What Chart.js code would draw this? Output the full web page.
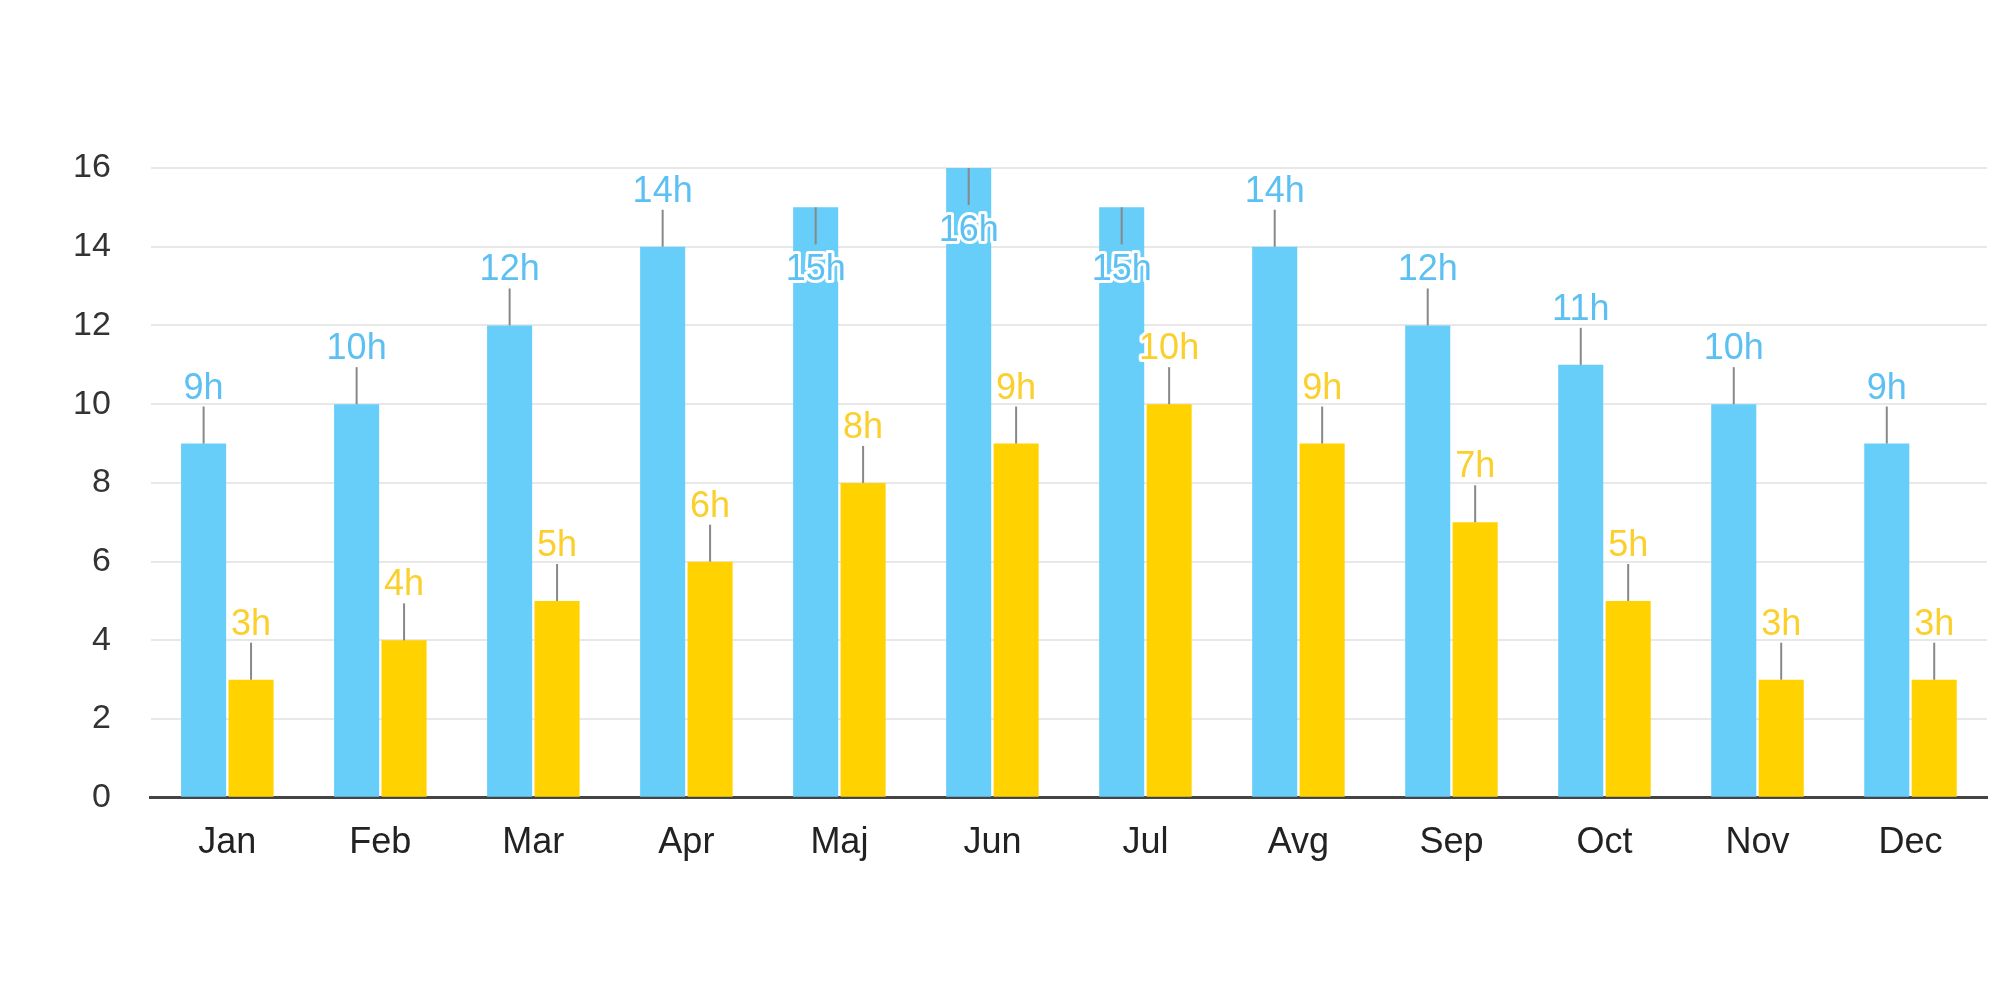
<!DOCTYPE html>
<html>
<head>
<meta charset="utf-8">
<script src="https://cdn.jsdelivr.net/npm/chart.js@4/dist/chart.umd.min.js"></script>
<style>
  html, body { margin: 0; padding: 0; background: #fff; }
  #wrap { width: 2000px; height: 1000px; }
</style>
</head>
<body>
<div id="wrap"><canvas id="myChart" width="2000" height="1000"></canvas></div>
<script>
const months = ["Jan", "Feb", "Mar", "Apr", "Maj", "Jun", "Jul", "Avg", "Sep", "Oct", "Nov", "Dec"];
const daylight = [9, 10, 12, 14, 15, 16, 15, 14, 12, 11, 10, 9];
const sunshine = [3, 4, 5, 6, 8, 9, 10, 9, 7, 5, 3, 3];

const BLUE = "#66cef8";
const BLUE_TEXT = "#5cc0f2";
const YELLOW = "#ffd200";
const YELLOW_TEXT = "#fbcf2c";

// value labels with a short grey connector above each bar
const hourLabels = {
  id: "hourLabels",
  afterDatasetsDraw(chart) {
    const c = chart.ctx;
    const top = chart.chartArea.top;
    c.save();
    c.font = "36px 'Liberation Sans', Arial, sans-serif";
    c.textAlign = "center";
    chart.data.datasets.forEach((ds, di) => {
      chart.getDatasetMeta(di).data.forEach((bar, i) => {
        const x = bar.x, y = bar.y;
        const lineLen = 37;
        const inside = y - lineLen - 8 - 26 < top - 10;
        c.strokeStyle = "#888";
        c.lineWidth = 2;
        c.beginPath();
        if (inside) {
          c.moveTo(x, y);
          c.lineTo(x, y + lineLen);
        } else {
          c.moveTo(x, y);
          c.lineTo(x, y - lineLen);
        }
        c.stroke();
        const txt = ds.data[i] + "h";
        const ty = inside ? y + lineLen + 36 : y - lineLen - 8;
        c.textBaseline = "alphabetic";
        c.lineJoin = "round";
        c.lineWidth = 6;
        c.strokeStyle = "#fff";
        c.strokeText(txt, x, ty);
        c.fillStyle = ds.labelColor;
        c.fillText(txt, x, ty);
      });
    });
    c.restore();
  }
};

const ctx = document.getElementById("myChart").getContext("2d");
new Chart(ctx, {
  type: "bar",
  plugins: [hourLabels],
  data: {
    labels: months,
    datasets: [
      {
        label: "Daylight",
        data: daylight,
        backgroundColor: BLUE,
        labelColor: BLUE_TEXT,
        categoryPercentage: 0.62,
        barPercentage: 0.95
      },
      {
        label: "Sunshine",
        data: sunshine,
        backgroundColor: YELLOW,
        labelColor: YELLOW_TEXT,
        categoryPercentage: 0.62,
        barPercentage: 0.95
      }
    ]
  },
  options: {
    responsive: false,
    animation: false,
    layout: { padding: { top: 168, left: 33, right: 13, bottom: 111 } },
    plugins: {
      legend: { display: false },
      tooltip: { enabled: false }
    },
    scales: {
      x: {
        grid: { display: false, drawTicks: false },
        border: { color: "#444", width: 3 },
        ticks: {
          color: "#222",
          padding: 24,
          font: { family: "'Liberation Sans', Arial, sans-serif", size: 36 }
        }
      },
      y: {
        min: 0,
        max: 16,
        grid: {
          drawTicks: false,
          lineWidth: 2,
          color: (c) => (c.tick && c.tick.value % 2 === 0 ? "#e8e8e8" : "#f2f2f2")
        },
        border: { display: false },
        ticks: {
          stepSize: 1,
          padding: 40,
          color: "#333",
          font: { family: "'Liberation Sans', Arial, sans-serif", size: 34 },
          callback: (v) => (v % 2 === 0 ? v : "")
        }
      }
    }
  }
});
</script>
</body>
</html>
